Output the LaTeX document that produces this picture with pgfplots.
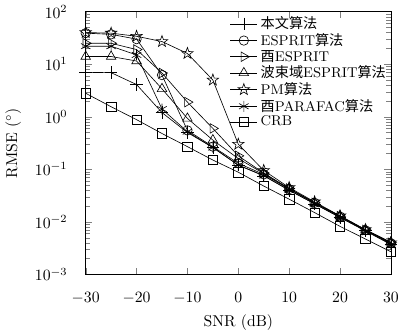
\documentclass[border=0pt]{standalone}
\usepackage{fontspec}
\usepackage{pgfplots}
\pgfplotsset{compat=1.18}
\newfontfamily\cjk{Noto Sans CJK SC}
\pgfdeclareplotmark{pentagram}{%
  \pgfpathmoveto{\pgfpointpolar{90}{\pgfplotmarksize}}%
  \pgfpathlineto{\pgfpointpolar{126}{0.40\pgfplotmarksize}}%
  \pgfpathlineto{\pgfpointpolar{162}{\pgfplotmarksize}}%
  \pgfpathlineto{\pgfpointpolar{198}{0.40\pgfplotmarksize}}%
  \pgfpathlineto{\pgfpointpolar{234}{\pgfplotmarksize}}%
  \pgfpathlineto{\pgfpointpolar{270}{0.40\pgfplotmarksize}}%
  \pgfpathlineto{\pgfpointpolar{306}{\pgfplotmarksize}}%
  \pgfpathlineto{\pgfpointpolar{342}{0.40\pgfplotmarksize}}%
  \pgfpathlineto{\pgfpointpolar{18}{\pgfplotmarksize}}%
  \pgfpathlineto{\pgfpointpolar{54}{0.40\pgfplotmarksize}}%
  \pgfpathclose
  \pgfusepathqstroke
}
\begin{document}
\begin{tikzpicture}
\begin{axis}[
  scale only axis,
  width=194pt, height=167pt,
  xmin=-30, xmax=30,
  ymode=log, ymin=1e-3, ymax=1e2,
  xtick={-30,-20,...,30},
  ytick={1e-3,1e-2,1e-1,1,1e1,1e2},
  xlabel={SNR (dB)},
  ylabel={RMSE $(^\circ)$},
  xticklabel style={yshift=-8pt},
  yticklabel style={xshift=-8pt},
  ylabel style={yshift=2pt},
  tick align=inside,
  legend style={at={(rel axis cs:1,1)}, anchor=north east, draw=none, fill=none, row sep=-2.5pt, font=\small, inner sep=1pt},
  legend cell align=left,
  every axis plot/.append style={black, thin, mark options={solid, fill=none}, mark size=3pt},
]
\addplot[black, mark=+, mark size=4pt] coordinates {(-30,7.0)(-25,6.9)(-20,4.1)(-15,1.2)(-10,0.50)(-5,0.26)(0,0.12)(5,0.075)(10,0.040)(15,0.022)(20,0.0122)(25,0.0068)(30,0.0038)};
\addlegendentry{{\cjk 本文算法}}
\addplot[black, mark=o] coordinates {(-30,39)(-25,37)(-20,30)(-15,6.2)(-10,0.55)(-5,0.27)(0,0.13)(5,0.080)(10,0.042)(15,0.023)(20,0.0126)(25,0.0069)(30,0.0039)};
\addlegendentry{ESPRIT{\cjk 算法}}
\addplot[black, mark=triangle, mark options={rotate=-90}, mark size=3.5pt] coordinates {(-30,25)(-25,25)(-20,19)(-15,6.8)(-10,1.9)(-5,0.60)(0,0.18)(5,0.085)(10,0.043)(15,0.023)(20,0.0128)(25,0.0070)(30,0.0040)};
\addlegendentry{{\cjk 酉}ESPRIT}
\addplot[black, mark=triangle, mark size=3.5pt] coordinates {(-30,14)(-25,14)(-20,11.5)(-15,3.4)(-10,0.93)(-5,0.36)(0,0.16)(5,0.083)(10,0.043)(15,0.023)(20,0.0130)(25,0.0071)(30,0.0041)};
\addlegendentry{{\cjk 波束域}ESPRIT{\cjk 算法}}
\addplot[black, mark=pentagram, mark size=3.8pt] coordinates {(-30,40)(-25,39)(-20,34)(-15,27)(-10,16)(-5,5.0)(0,0.30)(5,0.095)(10,0.045)(15,0.024)(20,0.0130)(25,0.0071)(30,0.0040)};
\addlegendentry{PM{\cjk 算法}}
\addplot[black, mark=asterisk, mark size=3.5pt] coordinates {(-30,22)(-25,22)(-20,15)(-15,1.4)(-10,0.52)(-5,0.26)(0,0.12)(5,0.076)(10,0.040)(15,0.022)(20,0.0121)(25,0.0067)(30,0.0037)};
\addlegendentry{{\cjk 酉}PARAFAC{\cjk 算法}}
\addplot[black, mark=square] coordinates {(-30,2.8)(-25,1.55)(-20,0.88)(-15,0.48)(-10,0.27)(-5,0.15)(0,0.088)(5,0.048)(10,0.027)(15,0.015)(20,0.0082)(25,0.0047)(30,0.0027)};
\addlegendentry{CRB}
\end{axis}
\end{tikzpicture}
\end{document}
